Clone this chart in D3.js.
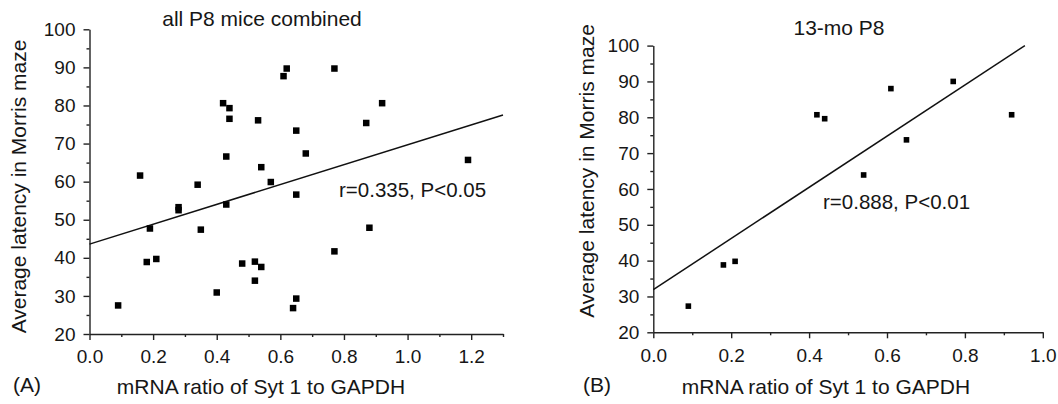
<!DOCTYPE html>
<meta charset="utf-8">
<script src="https://d3js.org/d3.v7.min.js"></script>
<title>Syt 1 vs Morris maze latency</title>

<style>
body { margin: 0; background: #fff; font-family: "Liberation Sans", Arial, sans-serif; }
text { fill: #161616; }
.axis path, .axis line { fill: none; stroke: #222; stroke-width: 1.4px; }
.axis text { font-size: 19px; font-family: "Liberation Sans", Arial, sans-serif; fill: #161616; }
.fit { fill: none; stroke: #111; stroke-width: 1.5px; }
.dot { fill: #000; }
</style>

<body>
<svg id="chart" width="1058" height="404"></svg>
<script>

// (A) all P8 mice combined
var xA = [0.09, 0.159, 0.19, 0.18, 0.21, 0.28, 0.28, 0.34, 0.35, 0.40, 0.42, 0.44, 0.44, 0.43, 0.43,
          0.48, 0.52, 0.52, 0.54, 0.53, 0.54, 0.57, 0.61, 0.62, 0.65, 0.65, 0.65, 0.64, 0.68, 0.77,
          0.77, 0.87, 0.88, 0.92, 1.19];
var yA = [27.5, 61.6, 47.7, 38.9, 39.7, 53.3, 52.5, 59.2, 47.4, 30.9, 80.6, 79.3, 76.5, 66.6, 54.0,
          38.5, 39.0, 34.0, 37.6, 76.1, 63.8, 59.9, 87.7, 89.7, 73.4, 56.6, 29.3, 26.8, 67.4, 89.7,
          41.7, 75.4, 47.9, 80.6, 65.7];
var fitA_x = [0, 1.3];
var fitA_y = [43.6, 77.5];

// (B) 13-mo P8
var xB = [0.09, 0.18, 0.21, 0.42, 0.44, 0.54, 0.61, 0.65, 0.77, 0.92];
var yB = [27.3, 38.8, 39.8, 80.7, 79.6, 63.9, 88.0, 73.7, 90.0, 80.7];
var fitB_x = [0, 0.954];
var fitB_y = [31.9, 100];

var yMajor = [20, 30, 40, 50, 60, 70, 80, 90, 100];
var yMinor = [25, 35, 45, 55, 65, 75, 85, 95];
var xMajorA = [0, 0.2, 0.4, 0.6, 0.8, 1.0, 1.2];
var xMinorA = [0.1, 0.3, 0.5, 0.7, 0.9, 1.1, 1.3];
var xMajorB = [0, 0.2, 0.4, 0.6, 0.8, 1.0];
var xMinorB = [0.1, 0.3, 0.5, 0.7, 0.9];

var svg = d3.select("#chart");

function panel(p) {
  var x = d3.scaleLinear().domain(p.xDomain).range(p.xRange);
  var y = d3.scaleLinear().domain([20, 100]).range(p.yRange);
  var g = svg.append("g");
  var yb = p.yRange[0];

  // minor ticks first
  g.append("g").attr("class", "axis")
      .attr("transform", "translate(0," + yb + ")")
      .call(d3.axisBottom(x).tickValues(p.xMinor).tickSize(3).tickSizeOuter(0).tickFormat(""))
      .select(".domain").remove();
  g.append("g").attr("class", "axis")
      .attr("transform", "translate(" + p.xRange[0] + ",0)")
      .call(d3.axisLeft(y).tickValues(yMinor).tickSize(3).tickSizeOuter(0).tickFormat(""))
      .select(".domain").remove();

  g.append("g").attr("class", "axis")
      .attr("transform", "translate(0," + yb + ")")
      .call(d3.axisBottom(x).tickValues(p.xMajor).tickSize(6).tickSizeOuter(0)
            .tickPadding(p.xPad).tickFormat(d3.format(".1f")));
  g.append("g").attr("class", "axis")
      .attr("transform", "translate(" + p.xRange[0] + ",0)")
      .call(d3.axisLeft(y).tickValues(yMajor).tickSize(6).tickSizeOuter(0).tickPadding(8));

  // regression line
  g.append("path")
      .attr("class", "fit")
      .attr("d", d3.line()([[x(p.fitX[0]), y(p.fitY[0])], [x(p.fitX[1]), y(p.fitY[1])]]));

  // points
  var pts = d3.zip(p.xs, p.ys);
  g.selectAll("rect.dot")
      .data(pts)
    .enter().append("rect")
      .attr("class", "dot")
      .attr("x", function(d) { return x(d[0]) - p.sq / 2; })
      .attr("y", function(d) { return y(d[1]) - p.sq / 2; })
      .attr("width", p.sq)
      .attr("height", p.sq);

  g.append("text")
      .attr("x", p.titleX).attr("y", p.titleY)
      .attr("text-anchor", "middle")
      .style("font-size", "21px")
      .text(p.title);

  g.append("text")
      .attr("x", p.noteX).attr("y", p.noteY)
      .style("font-size", "20.5px")
      .text(p.note);

  g.append("text")
      .attr("transform", "translate(" + p.ylabX + "," + p.ylabY + ") rotate(-90)")
      .attr("text-anchor", "middle")
      .style("font-size", "21px")
      .text("Average latency in Morris maze");

  g.append("text")
      .attr("x", p.xlabX).attr("y", 393.5)
      .attr("text-anchor", "middle")
      .style("font-size", "21px")
      .text("mRNA ratio of Syt 1 to GAPDH");

  g.append("text")
      .attr("x", p.letterX).attr("y", 392)
      .style("font-size", "21px")
      .text(p.letter);
}

panel({
  xs: xA, ys: yA, fitX: fitA_x, fitY: fitA_y,
  xDomain: [0, 1.3], xRange: [89.5, 503], yRange: [334, 29.3],
  xMajor: xMajorA, xMinor: xMinorA, xPad: 9.5, sq: 6.5,
  title: "all P8 mice combined", titleX: 262, titleY: 26,
  note: "r=0.335, P<0.05", noteX: 339, noteY: 196.5,
  ylabX: 26, ylabY: 186.5, xlabX: 261, letter: "(A)", letterX: 13
});

panel({
  xs: xB, ys: yB, fitX: fitB_x, fitY: fitB_y,
  xDomain: [0, 1.0], xRange: [653.3, 1042.8], yRange: [332.3, 45.6],
  xMajor: xMajorB, xMinor: xMinorB, xPad: 10, sq: 5.6,
  title: "13-mo P8", titleX: 839, titleY: 35,
  note: "r=0.888, P<0.01", noteX: 823, noteY: 209,
  ylabX: 594, ylabY: 171, xlabX: 826, letter: "(B)", letterX: 583
});

</script>
</body>
